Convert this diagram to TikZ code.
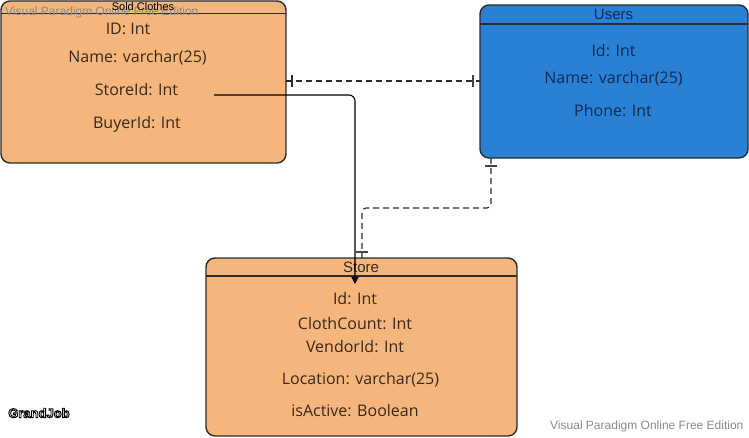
\documentclass[tikz,border=0pt]{standalone}
\usepackage{fontspec}
\setmainfont{Open Sans}
\newfontfamily\arialf{Liberation Sans}
\usetikzlibrary{arrows.meta}
\definecolor{orangefill}{HTML}{F4B67C}
\definecolor{bluefill}{HTML}{2A80D5}
\definecolor{edgecol}{HTML}{2B2B2B}
\definecolor{navytext}{HTML}{0E2B52}
\definecolor{browntext}{HTML}{3A2816}
\definecolor{wmgray}{HTML}{8A8A8A}
\definecolor{tickgray}{HTML}{444444}
\begin{document}
\begin{tikzpicture}[x=1pt,y=-1pt,
  entity/.style={draw=edgecol, line width=1.4pt, rounded corners=9pt, anchor=north west, inner sep=0pt, outer sep=0pt},
  headline/.style={draw=edgecol, line width=1.2pt},
  field/.style={font=\fontsize{16}{19}\selectfont, inner sep=0pt, anchor=center},
  etitle/.style={font=\arialf\fontsize{15}{17}\selectfont, inner sep=0pt, anchor=center},
  solidconn/.style={draw=black, line width=1.1pt, rounded corners=6pt, -{Triangle[width=7pt,length=7pt]}},
  dashconn/.style={draw=edgecol, line width=1.1pt, dash pattern=on 6pt off 4pt, rounded corners=4pt},
  onetick/.style={draw=tickgray, line width=1.4pt},
  watermark/.style={font=\arialf\fontsize{12}{14}\selectfont, text=wmgray, inner sep=0pt, anchor=west}
]
\useasboundingbox (0,0) rectangle (749,437);
% Entities
\node[entity, fill=orangefill, minimum width=285pt, minimum height=162pt] (sold) at (1,1) {};
\node[entity, fill=bluefill, minimum width=268pt, minimum height=153pt] (users) at (480,5) {};
\node[entity, fill=orangefill, minimum width=311pt, minimum height=178pt] (store) at (206,258) {};
% Header lines
\draw[headline] (sold.west |- 0,13.5) -- (sold.east |- 0,13.5);
\draw[headline] (users.west |- 0,24) -- (users.east |- 0,24);
\draw[headline] (store.west |- 0,276) -- (store.east |- 0,276);
% watermark top-left (behind title)
\node[watermark] (wm1) at (5,12) {Visual Paradigm Online Free Edition};
% Titles
\node[font=\arialf\fontsize{11}{12}\selectfont, inner sep=0pt] (soldt) at (143,6.5) {Sold Clothes};
\node[etitle, text=navytext] (userst) at (613.5,14.5) {Users};
\node[etitle, text=browntext] (storet) at (361,267.5) {Store};
% Fields
\node[field, text=browntext] (s1) at (128,29) {ID: Int};
\node[field, text=browntext] (s2) at (137.5,57.5) {Name: varchar(25)};
\node[field, text=browntext] (s3) at (136.5,90) {StoreId: Int};
\node[field, text=browntext] (s4) at (137,124) {BuyerId: Int};
\node[field, text=navytext] (u1) at (613.5,50.5) {Id: Int};
\node[field, text=navytext] (u2) at (613.5,79) {Name: varchar(25)};
\node[field, text=navytext] (u3) at (613,110.5) {Phone: Int};
\node[field, text=browntext] (t1) at (355,299) {Id: Int};
\node[field, text=browntext] (t2) at (355,323.5) {ClothCount: Int};
\node[field, text=browntext] (t3) at (355,347) {VendorId: Int};
\node[field, text=browntext] (t4) at (360.5,380) {Location: varchar(25)};
\node[field, text=browntext] (t5) at (355,411) {isActive: Boolean};
% Connectors
\coordinate (fkstart) at (214,95);
\coordinate (fkend) at (355,284);
\draw[solidconn] (fkstart) -- (fkstart -| fkend) -- (fkend);
\draw[dashconn] (sold.east |- 0,81) -- (users.west |- 0,81);
\draw[draw=edgecol, line width=1.1pt] (292,75) -- (292,87);
\draw[onetick] (473,75) -- (473,87);
\draw[dashconn] (users.south -| 491,0) -- (491,208) -- (362,208) -- (store.north -| 362,0);
\draw[onetick] (485,166) -- (497,166);
\draw[onetick] (356,252) -- (368,252);
% Watermark bottom-right
\node[watermark] (wm2) at (550,426) {Visual Paradigm Online Free Edition};
% GrandJob outlined text (white fill, black outline via text render mode)
\node[font=\arialf\bfseries\fontsize{13}{14}\selectfont, inner sep=0pt, anchor=west] (gj) at (8,413)
  {\color{white}\special{pdf:literal direct 0 G 2 Tr 0.9 w}GrandJob\special{pdf:literal direct 0 Tr 1 w}};
\end{tikzpicture}
\end{document}
